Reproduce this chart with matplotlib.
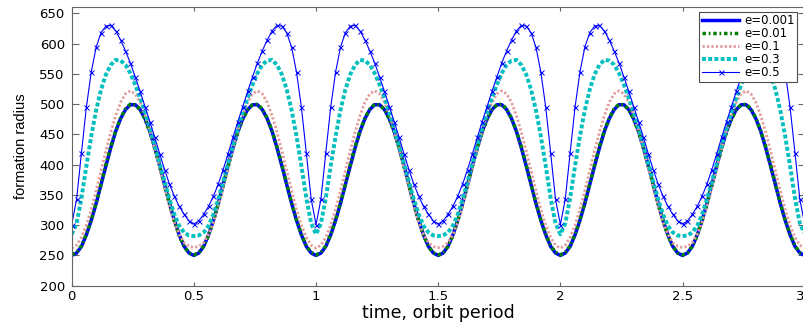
import numpy as np
import matplotlib.pyplot as plt
from matplotlib import font_manager

# formation radius over one orbit, read every 0.02 orbit period (t = 0 ... 1)
orbit_e0001 = [250, 254, 265, 284, 308, 336, 367, 398, 428, 455, 476, 491, 499,
               499, 491, 476, 455, 428, 398, 367, 336, 308, 284, 265, 254, 250,
               254, 265, 284, 308, 336, 367, 398, 428, 455, 476, 491, 499,
               499, 491, 476, 455, 428, 398, 367, 336, 308, 284, 265, 254, 250]
orbit_e001 = [251, 255, 266, 285, 309, 337, 368, 400, 430, 456, 477, 492, 500,
              499, 491, 475, 454, 427, 397, 366, 335, 307, 283, 265, 254, 251,
              254, 265, 283, 307, 335, 366, 397, 427, 454, 475, 491, 499,
              500, 492, 477, 456, 430, 400, 368, 337, 309, 285, 266, 255, 251]
orbit_e01 = [262, 267, 280, 300, 326, 357, 390, 423, 454, 481, 503, 517, 522,
             517, 503, 482, 456, 426, 394, 362, 332, 305, 285, 271, 265, 263,
             265, 271, 285, 305, 332, 362, 394, 426, 456, 482, 503, 517,
             522, 517, 503, 481, 454, 423, 390, 357, 326, 300, 280, 267, 262]
orbit_e03 = [285, 303, 345, 398, 447, 490, 524, 549, 565, 573, 572, 565, 551,
             532, 510, 487, 461, 432, 402, 372, 343, 318, 299, 288, 283, 282,
             283, 288, 299, 318, 343, 372, 402, 432, 461, 487, 510, 532,
             551, 565, 572, 573, 565, 549, 524, 490, 447, 398, 345, 303, 285]
orbit_e05 = [301, 343, 420, 495, 553, 594, 618, 629, 630, 621, 606, 588, 568,
             545, 521, 496, 471, 445, 418, 392, 368, 348, 331, 318, 307, 302,
             307, 318, 331, 348, 368, 392, 418, 445, 471, 496, 521, 545,
             568, 588, 606, 621, 630, 629, 618, 594, 553, 495, 420, 343, 301]

labels = ['e=0.001', 'e=0.01', 'e=0.1', 'e=0.3', 'e=0.5']
xticks = [0, 0.5, 1, 1.5, 2, 2.5, 3]
xticklabels = ['0', '0.5', '1', '1.5', '2', '2.5', '3']
yticks = [200, 250, 300, 350, 400, 450, 500, 550, 600, 650]

n_orbits = 3
t = np.linspace(0, n_orbits, 50 * n_orbits + 1)


def repeat_orbits(orbit):
    # the motion repeats every orbit period
    orbit = np.asarray(orbit, dtype=float)
    return np.concatenate([orbit[:-1]] * n_orbits + [orbit[-1:]])


plt.rcParams['font.family'] = 'DejaVu Sans'

installed = {f.name for f in font_manager.fontManager.ttflist}
if 'Liberation Sans Narrow' in installed:
    ylab_font, ylab_size = 'Liberation Sans Narrow', 11.5
else:
    ylab_font, ylab_size = 'Liberation Sans', 10.5

fig = plt.figure(figsize=(8.04, 3.22), dpi=100)
ax = fig.add_axes([0.0892, 0.1127, 0.9117, 0.8646])

ax.plot(t, repeat_orbits(orbit_e0001), color='b', lw=2.5, label=labels[0])
ax.plot(t, repeat_orbits(orbit_e001), color=(0, 0.5, 0), lw=2.5,
        dashes=(1.0, 0.8, 0.5, 0.8), label=labels[1])
ax.plot(t, repeat_orbits(orbit_e01), color='#e39a9a', lw=2,
        dashes=(0.8, 0.8), label=labels[2])
ax.plot(t, repeat_orbits(orbit_e03), color='#00bfbf', lw=2.8,
        dashes=(1.0, 0.6), label=labels[3])
ax.plot(t, repeat_orbits(orbit_e05), color='b', lw=0.8, marker='x', ms=3.6,
        mew=0.7, label=labels[4])

ax.set_xlim(0, 3)
ax.set_ylim(200, 660)
ax.set_xticks(xticks)
ax.set_xticklabels(xticklabels)
ax.set_yticks(yticks)
# the right spine sits on the picture's edge, keep the last label inside
ax.get_xticklabels()[-1].set_horizontalalignment('right')

for s in ax.spines.values():
    s.set_color('0.4')
    s.set_linewidth(0.8)
ax.tick_params(axis='both', which='both', direction='in', top=True, right=True,
               color='0.4', labelsize=9.5)
ax.tick_params(axis='x', length=3, pad=3)
ax.tick_params(axis='y', length=5, pad=5)

ax.set_xlabel('time, orbit period', fontsize=12.5, labelpad=1)
ax.set_ylabel('formation radius', fontsize=ylab_size, family=ylab_font,
              labelpad=8)

leg = ax.legend(loc='upper right', bbox_to_anchor=(0.9895, 0.983),
                borderaxespad=0, fontsize=8.5, handlelength=3.2,
                handletextpad=0.4, labelspacing=0.0, borderpad=0.2,
                numpoints=1, fancybox=False, framealpha=1)
leg.get_frame().set_edgecolor('0.3')
leg.get_frame().set_linewidth(0.8)

fig.savefig('out.png', dpi=100)
